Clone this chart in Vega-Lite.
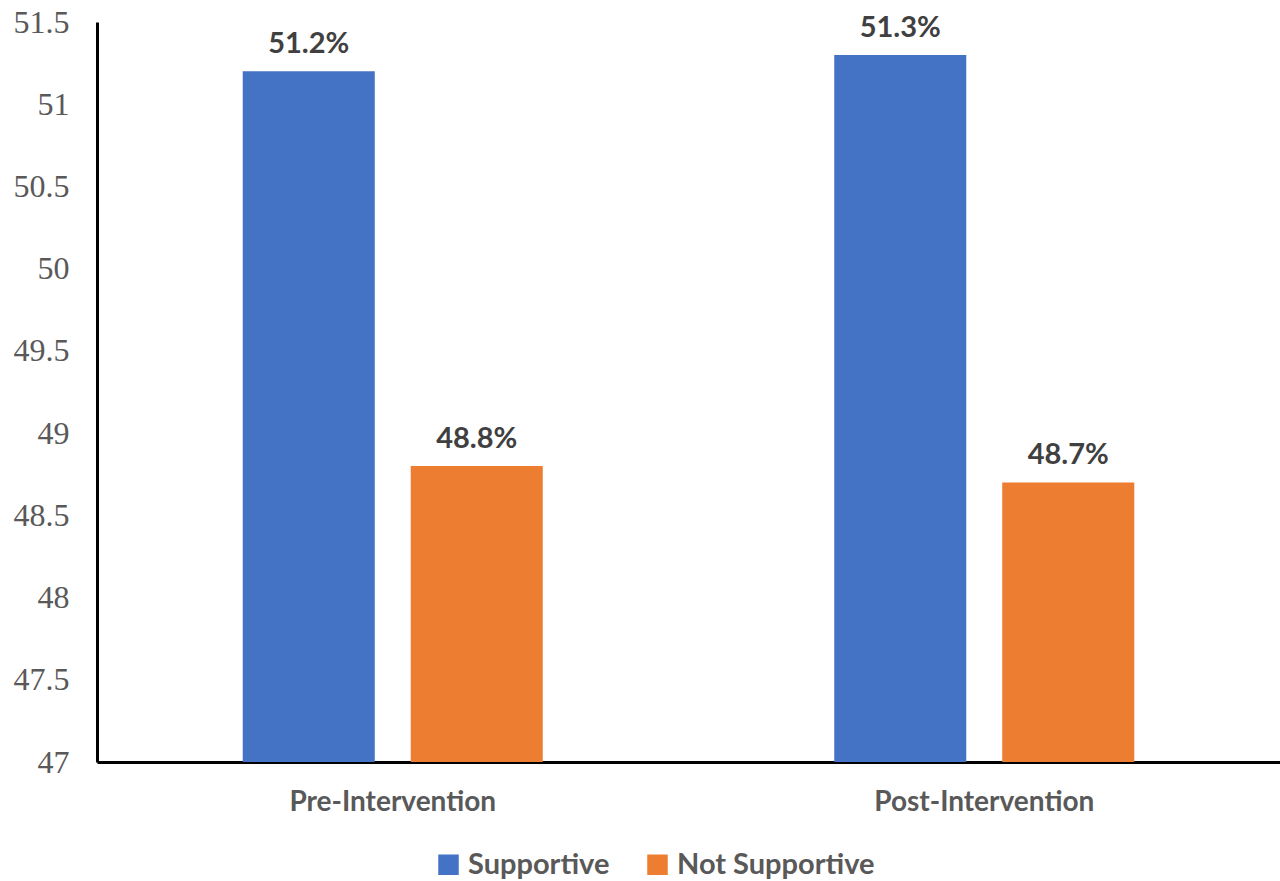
{
  "$schema": "https://vega.github.io/schema/vega-lite/v6.json",
  "autosize": {"type": "none"},
  "padding": {"left": 97, "top": 22, "right": 0, "bottom": 119},
  "width": 1183,
  "height": 740,
  "background": "white",
  "config": {"view": {"stroke": null}},
  "data": {
    "values": [
      {"phase": "Pre-Intervention", "group": "Supportive", "value": 51.2, "label": "51.2%"},
      {"phase": "Pre-Intervention", "group": "Not Supportive", "value": 48.8, "label": "48.8%"},
      {"phase": "Post-Intervention", "group": "Supportive", "value": 51.3, "label": "51.3%"},
      {"phase": "Post-Intervention", "group": "Not Supportive", "value": 48.7, "label": "48.7%"}
    ]
  },
  "encoding": {
    "x": {
      "field": "phase", "type": "nominal",
      "sort": ["Pre-Intervention", "Post-Intervention"],
      "scale": {"paddingInner": 0, "paddingOuter": 0},
      "axis": {
        "title": null, "labelAngle": 0, "ticks": false, "labelLimit": 0,
        "domainColor": "#000000", "domainWidth": 3,
        "labelFont": "Lato", "labelFontWeight": "bold", "labelFontSize": 28,
        "labelColor": "#595959", "labelPadding": 26
      }
    },
    "xOffset": {
      "field": "group", "type": "nominal",
      "sort": ["Supportive", "Not Supportive"],
      "scale": {"paddingInner": 0.214, "paddingOuter": 0.8675}
    }
  },
  "layer": [
    {
      "mark": {"type": "bar"},
      "encoding": {
        "y": {
          "field": "value", "type": "quantitative",
          "scale": {"domain": [47, 51.5], "nice": false, "zero": false},
          "axis": {
            "title": null, "ticks": false, "grid": false, "format": "~g",
            "values": [47, 47.5, 48, 48.5, 49, 49.5, 50, 50.5, 51, 51.5],
            "domainColor": "#000000", "domainWidth": 3,
            "labelFont": "Liberation Serif", "labelFontSize": 32,
            "labelColor": "#595959", "labelPadding": 28,
            "labelFontWeight": "normal"
          }
        },
        "y2": {"datum": 47},
        "color": {
          "field": "group", "type": "nominal",
          "sort": ["Supportive", "Not Supportive"],
          "scale": {"domain": ["Supportive", "Not Supportive"], "range": ["#4472C4", "#ED7D31"]},
          "legend": {
            "title": null, "orient": "none", "direction": "horizontal",
            "legendX": 337, "legendY": 828,
            "symbolType": "square", "symbolSize": 420, "symbolStrokeWidth": 0,
            "symbolOpacity": 1, "labelLimit": 0,
            "labelFont": "Lato", "labelFontWeight": "bold", "labelFontSize": 29,
            "labelColor": "#595959", "columnPadding": 33,
            "labelOffset": 5
          }
        }
      }
    },
    {
      "mark": {"type": "text", "baseline": "alphabetic", "dy": -18, "font": "Lato", "fontWeight": "bold", "fontSize": 29, "color": "#404040"},
      "encoding": {
        "y": {"field": "value", "type": "quantitative"},
        "text": {"field": "label"}
      }
    }
  ]
}
